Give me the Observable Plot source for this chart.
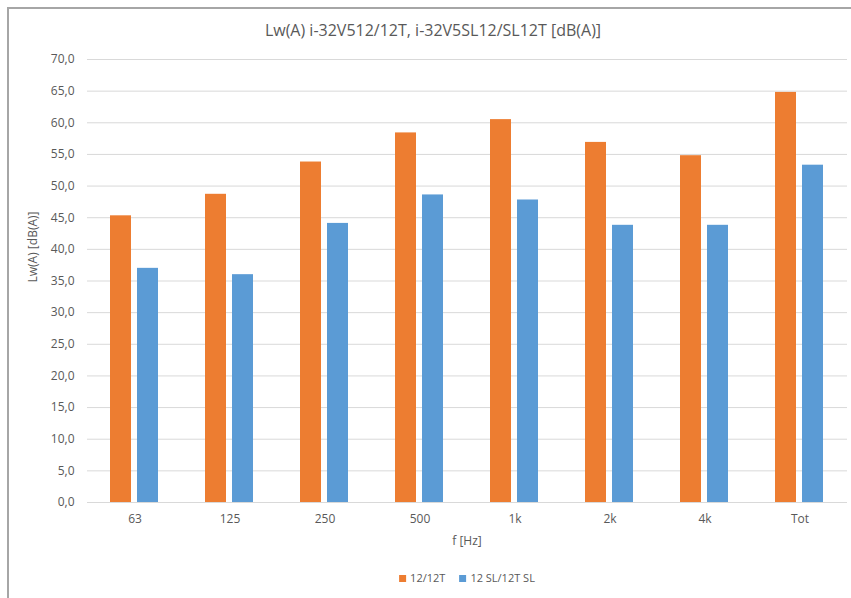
<!DOCTYPE html>
<html>
<head>
<meta charset="utf-8">
<script src="https://cdn.jsdelivr.net/npm/d3@7"></script>
<script src="https://cdn.jsdelivr.net/npm/@observablehq/plot@0.6"></script>
<style>
  body { margin: 0; background: #fff; }
  #wrap { position: relative; width: 851px; height: 598px; overflow: hidden; font-family: "Open Sans", "Liberation Sans", sans-serif; color: #595959; }
  #frame { position: absolute; left: 7px; top: 7px; width: 900px; height: 700px; border-top: 2px solid #a6a6a6; border-left: 2px solid #a6a6a6; box-sizing: border-box; }
  #title { position: absolute; top: 19px; left: 0; width: 866px; text-align: center; font-size: 16px; }
  #chart { position: absolute; left: 0; top: 0; }
  #ylabel { position: absolute; left: 32px; top: 247px; transform: translate(-50%, -50%) rotate(-90deg); font-size: 12px; white-space: nowrap; }
  #xlabel { position: absolute; top: 532px; left: 467px; transform: translateX(-50%); font-size: 12px; }
  #legend { position: absolute; top: 570px; left: 467px; transform: translateX(-50%); font-size: 11px; display: flex; gap: 14px; white-space: nowrap; }
  .sw { display: inline-block; width: 7px; height: 7px; margin-right: 4px; }
</style>
</head>
<body>
<div id="wrap">
  <div id="frame"></div>
  <div id="chart"></div>
  <div id="title">Lw(A) i-32V512/12T, i-32V5SL12/SL12T [dB(A)]</div>
  <div id="ylabel">Lw(A) [dB(A)]</div>
  <div id="xlabel">f [Hz]</div>
  <div id="legend"></div>
</div>
<script>
const categories = ["63", "125", "250", "500", "1k", "2k", "4k", "Tot"];
const seriesNames = ["12/12T", "12 SL/12T SL"];
const values1212T = [45.3, 48.7, 53.8, 58.4, 60.5, 56.9, 54.8, 64.8];
const values12SL = [37.0, 36.0, 44.1, 48.6, 47.8, 43.8, 43.8, 53.3];
const yTicks = [0, 5, 10, 15, 20, 25, 30, 35, 40, 45, 50, 55, 60, 65, 70];
const colors = ["#ED7D31", "#5B9BD5"];

const data = categories.flatMap((c, i) => [
  {cat: c, series: seriesNames[0], value: values1212T[i]},
  {cat: c, series: seriesNames[1], value: values12SL[i]}
]);

const fmt = d => d.toFixed(1).replace(".", ",");

const chart = Plot.plot({
  width: 851,
  height: 560,
  marginTop: 59,
  marginBottom: 58,
  marginLeft: 86,
  marginRight: 3,
  style: {fontSize: "12px", fontFamily: "'Open Sans', 'Liberation Sans', sans-serif", color: "#595959", background: "transparent"},
  facet: {data, x: "cat"},
  fx: {domain: categories, padding: 0, label: null, tickSize: 0, tickPadding: 12},
  x: {domain: seriesNames, axis: null, paddingInner: 0.222, paddingOuter: 0.87},
  y: {domain: [0, 70], ticks: yTicks, tickFormat: fmt, tickSize: 0, tickPadding: 13, label: null},
  color: {domain: seriesNames, range: colors},
  marks: [
    Plot.ruleY(yTicks, {stroke: "#d9d9d9", strokeWidth: 1}),
    Plot.barY(data, {x: "series", y: "value", fill: "series"})
  ]
});
document.getElementById("chart").appendChild(chart);

const legend = document.getElementById("legend");
seriesNames.forEach((s, i) => {
  const item = document.createElement("span");
  const sw = document.createElement("span");
  sw.className = "sw";
  sw.style.background = colors[i];
  item.appendChild(sw);
  item.appendChild(document.createTextNode(s));
  legend.appendChild(item);
});
</script>
</body>
</html>
